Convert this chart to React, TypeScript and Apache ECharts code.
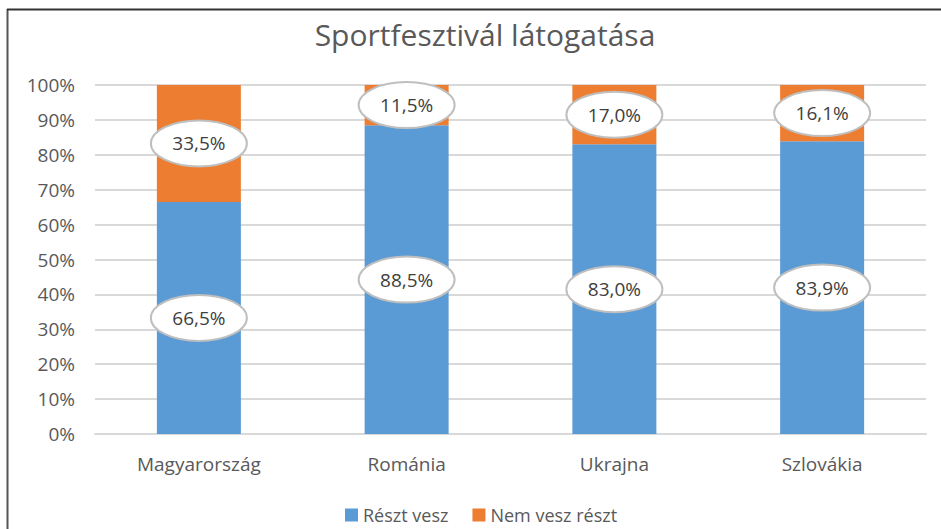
import React, { useEffect, useRef } from "react";
import * as echarts from "echarts";

const categories = ["Magyarország", "Románia", "Ukrajna", "Szlovákia"];
const resztVesz = [66.5, 88.5, 83.0, 83.9];
const nemVesz = [33.5, 11.5, 17.0, 16.1];
const seriesNames = ["Részt vesz", "Nem vesz részt"];
const yTicks = [0, 100, 10];

const FONT = "Open Sans";
const fmt = (v: number) => v.toFixed(1).replace(".", ",") + "%";

export default function App() {
  const ref = useRef<HTMLDivElement>(null);
  useEffect(() => {
    if (!ref.current) return;
    const chart = echarts.init(ref.current, undefined, { renderer: "svg" });
    const labelData: number[][] = [];
    categories.forEach((_, i) => {
      labelData.push([i, 0, resztVesz[i], resztVesz[i]]);
      labelData.push([i, resztVesz[i], resztVesz[i] + nemVesz[i], nemVesz[i]]);
    });
    chart.setOption({
      animation: false,
      backgroundColor: "#ffffff",
      title: {
        text: "Sportfesztivál látogatása",
        left: 480,
        top: 14,
        textAlign: "center",
        textStyle: { fontFamily: FONT, fontSize: 30, fontWeight: "normal", color: "#595959" },
      },
      legend: {
        data: seriesNames,
        left: 340,
        top: 501,
        icon: "rect",
        itemWidth: 13,
        itemHeight: 13,
        itemGap: 24,
        textStyle: { fontFamily: FONT, fontSize: 18, color: "#595959" },
      },
      grid: { left: 95, right: 15, top: 85, bottom: 95, containLabel: false },
      xAxis: {
        type: "category",
        data: categories,
        axisTick: { show: false },
        axisLine: { lineStyle: { color: "#d9d9d9", width: 2 } },
        axisLabel: { fontFamily: FONT, fontSize: 19, color: "#595959", margin: 20 },
      },
      yAxis: {
        type: "value",
        min: yTicks[0],
        max: yTicks[1],
        interval: yTicks[2],
        axisLabel: { formatter: "{value}%", fontFamily: FONT, fontSize: 19, color: "#595959", margin: 20 },
        axisLine: { show: false },
        axisTick: { show: false },
        splitLine: { lineStyle: { color: "#d9d9d9", width: 2 } },
      },
      graphic: [
        { type: "line", shape: { x1: 7.5, y1: 9, x2: 7.5, y2: 529 }, style: { stroke: "#555555", lineWidth: 2 } },
        { type: "line", shape: { x1: 7, y1: 9.5, x2: 941, y2: 9.5 }, style: { stroke: "#333333", lineWidth: 2 } },
      ],
      series: [
        {
          name: seriesNames[0],
          type: "bar",
          stack: "a",
          barWidth: 84,
          data: resztVesz,
          itemStyle: { color: "#5B9BD5" },
        },
        {
          name: seriesNames[1],
          type: "bar",
          stack: "a",
          barWidth: 84,
          data: nemVesz,
          itemStyle: { color: "#ED7D31" },
        },
        {
          type: "custom",
          z: 10,
          data: labelData,
          renderItem: (params: any, api: any) => {
            const c = api.coord([api.value(0), (api.value(1) + api.value(2)) / 2]);
            return {
              type: "group",
              children: [
                {
                  type: "ellipse",
                  shape: { cx: c[0], cy: c[1], rx: 48, ry: 23 },
                  style: { fill: "#ffffff", stroke: "#bfbfbf", lineWidth: 2 },
                },
                {
                  type: "text",
                  x: c[0],
                  y: c[1],
                  style: {
                    text: fmt(api.value(3)),
                    fontFamily: FONT,
                    fontSize: 19,
                    fill: "#404040",
                    align: "center",
                    verticalAlign: "middle",
                  },
                },
              ],
            };
          },
        },
      ],
    });
    return () => chart.dispose();
  }, []);
  return <div ref={ref} style={{ position: "absolute", left: 0, top: 0, width: 941, height: 529 }} />;
}
